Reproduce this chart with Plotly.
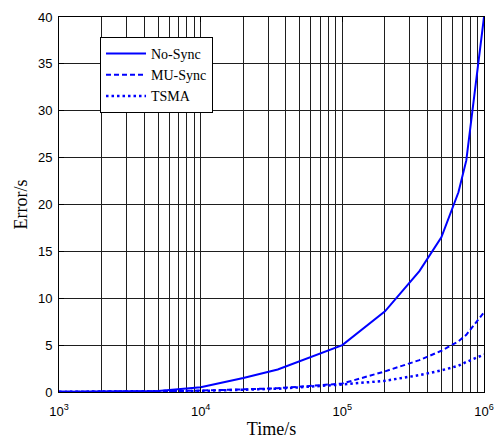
import plotly.graph_objects as go

time_s = [1e3, 2e3, 5e3, 1e4, 2e4, 3.5e4, 1e5, 2e5, 3.5e5, 5e5, 6.6e5, 7.5e5, 1e6]
no_sync = [0.02, 0.04, 0.12, 0.5, 1.5, 2.4, 5.0, 8.6, 12.9, 16.5, 21.3, 24.7, 40.0]
mu_sync = [0.02, 0.03, 0.07, 0.15, 0.28, 0.4, 0.9, 2.2, 3.4, 4.4, 5.4, 6.1, 8.5]
tsma = [0.02, 0.03, 0.06, 0.12, 0.24, 0.35, 0.8, 1.2, 1.8, 2.3, 2.8, 3.2, 4.0]

x_tickvals = [1e3, 1e4, 1e5, 1e6]
x_ticktext = ["10<sup>3</sup>", "10<sup>4</sup>", "10<sup>5</sup>", "10<sup>6</sup>"]
y_tickvals = [0, 5, 10, 15, 20, 25, 30, 35, 40]

blue = "rgb(0,0,255)"
serif = "Liberation Serif, Times New Roman"
fig = go.Figure()
fig.add_trace(go.Scatter(x=time_s, y=no_sync, mode="lines", name="No-Sync",
                         line=dict(color=blue, width=2)))
fig.add_trace(go.Scatter(x=time_s, y=mu_sync, mode="lines", name="MU-Sync",
                         line=dict(color=blue, width=2, dash="5px,3px")))
fig.add_trace(go.Scatter(x=time_s, y=tsma, mode="lines", name="TSMA",
                         line=dict(color=blue, width=2.5, dash="2.5px,3px")))

grid_col = "rgb(30,30,30)"
fig.update_layout(
    width=497, height=440,
    margin=dict(l=59, r=13, t=17, b=48),
    paper_bgcolor="white", plot_bgcolor="white",
    font=dict(family="Liberation Sans, Arial", size=13, color="black"),
    legend=dict(x=0.0965, y=0.947, xanchor="left", yanchor="top",
                bgcolor="white", bordercolor="black", borderwidth=1,
                font=dict(family=serif, size=14),
                itemwidth=40, tracegroupgap=0),
    xaxis=dict(type="log", range=[3, 6], tickvals=x_tickvals, ticktext=x_ticktext,
               showgrid=True, gridcolor=grid_col, gridwidth=1,
               minor=dict(dtick="D1", showgrid=True, gridcolor=grid_col, gridwidth=1,
                          ticks=""),
               showline=True, linecolor="black", linewidth=1, mirror="ticks",
               ticks="inside", ticklen=5, tickcolor="black",
               ticklabelstandoff=7, automargin=False,
               zeroline=False,
               title=dict(text="Time/s", font=dict(family=serif, size=18),
                          standoff=4)),
    yaxis=dict(range=[0, 40], tickvals=y_tickvals,
               showgrid=True, gridcolor=grid_col, gridwidth=1,
               showline=True, linecolor="black", linewidth=1, mirror="ticks",
               ticks="inside", ticklen=5, tickcolor="black",
               ticklabelstandoff=3, automargin=False,
               zeroline=False,
               title=dict(text="Error/s", font=dict(family=serif, size=18),
                          standoff=5)),
)
fig.write_html("out.html")
